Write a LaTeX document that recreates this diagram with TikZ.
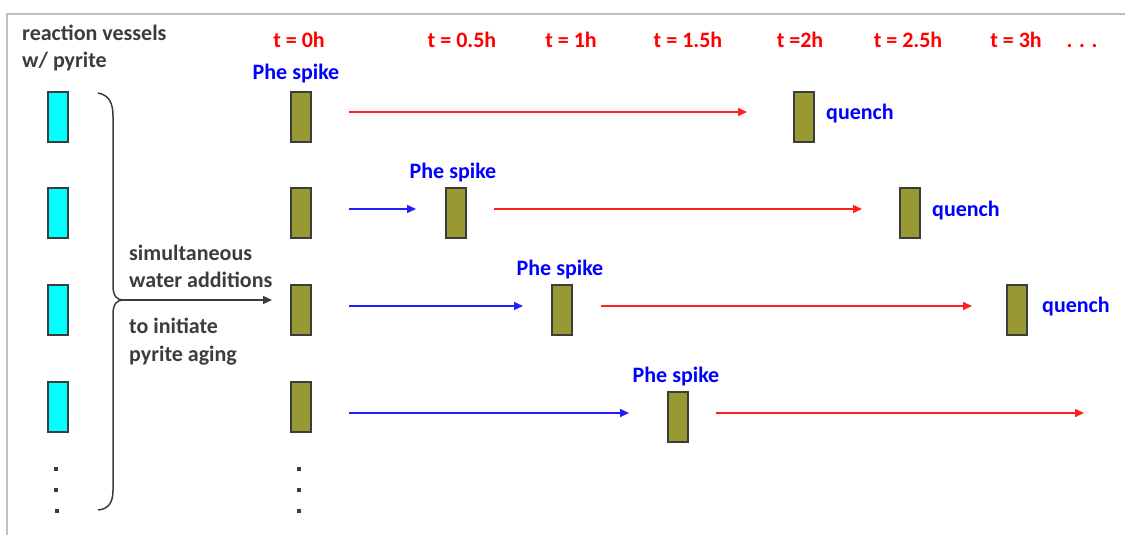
\documentclass[tikz,border=0pt]{standalone}
\usepackage{fontspec}
\setmainfont{Carlito}
\usetikzlibrary{arrows.meta}
\definecolor{olivebox}{RGB}{153,153,51}
\definecolor{vesselcyan}{RGB}{0,255,255}
\definecolor{darktext}{RGB}{60,60,60}
\definecolor{framegray}{RGB}{192,192,192}
\definecolor{arrred}{RGB}{255,32,32}
\definecolor{arrblue}{RGB}{32,32,255}
\definecolor{textred}{RGB}{255,0,0}
\definecolor{textblue}{RGB}{0,0,255}
\tikzset{
  vessel/.style={draw=darktext, line width=1.2pt, fill=vesselcyan, minimum width=20pt, minimum height=50pt, inner sep=0pt},
  sample/.style={draw=darktext, line width=1.2pt, fill=olivebox, minimum width=20pt, minimum height=50pt, inner sep=0pt},
  lbl/.style={inner sep=0pt, font=\fontsize{22}{26}\selectfont\bfseries},
  timelbl/.style={lbl, text=textred, anchor=base},
  spikelbl/.style={lbl, text=textblue, anchor=base},
  quenchlbl/.style={lbl, text=textblue, anchor=base west},
  notelbl/.style={lbl, text=darktext, anchor=base west},
  dot/.style={fill=darktext, minimum size=4pt, inner sep=0pt},
  redarr/.style={draw=arrred, line width=1.5pt, -{Triangle[length=9pt,width=8pt]}},
  bluearr/.style={draw=arrblue, line width=1.5pt, -{Triangle[length=9pt,width=8pt]}},
  addarr/.style={draw=darktext, line width=1.5pt, -{Triangle[length=9pt,width=8pt]}},
}
\begin{document}
\begin{tikzpicture}[x=1pt, y=-1pt]
\useasboundingbox (0,0) rectangle (1125,535);
% outer frame (top and left edges)
\draw[framegray, line width=2pt] (1125,14) -- (7,14) -- (7,535);

% column headings
\node[notelbl] (hdr1) at (22,41) {reaction vessels};
\node[notelbl] (hdr2) at (22,68) {w/ pyrite};
\node[timelbl] (t0)  at (299,48) {t = 0h};
\node[timelbl] (t05) at (462,48) {t = 0.5h};
\node[timelbl] (t1)  at (571,48) {t = 1h};
\node[timelbl] (t15) at (688,48) {t = 1.5h};
\node[timelbl] (t2)  at (800,48) {t =2h};
\node[timelbl] (t25) at (908,48) {t = 2.5h};
\node[timelbl] (t3)  at (1016,48) {t = 3h};
\node[timelbl] (tmore) at (1082,48) {. . .};

% reaction vessels
\node[vessel] (v1) at (58,117) {};
\node[vessel] (v2) at (58,213) {};
\node[vessel] (v3) at (58,310) {};
\node[vessel] (v4) at (58,407) {};
\node[dot] (vd1) at (56,469) {};
\node[dot] (vd2) at (56,490) {};
\node[dot] (vd3) at (57,511) {};

% brace gathering the vessels
\draw[darktext, line width=1.5pt]
  (98,93) .. controls (109,95) and (113,103) .. (113,116) -- (113,286)
  .. controls (113,296) and (117,300) .. (123,300)
  .. controls (117,300) and (113,304) .. (113,314) -- (113,490)
  .. controls (113,502) and (109,509) .. (98,510);
\coordinate (tip) at (123,300);
\node[notelbl] (n1) at (129,260) {simultaneous};
\node[notelbl] (n2) at (129,287) {water additions};
\node[notelbl] (n3) at (129,333) {to initiate};
\node[notelbl] (n4) at (129,361) {pyrite aging};
\coordinate (addend) at (272,300);
\draw[addarr] (tip) -- (addend);

% samples at t = 0h
\node[sample] (s1) at (301,117) {};
\node[sample] (s2) at (301,213) {};
\node[sample] (s3) at (301,310) {};
\node[sample] (s4) at (301,407) {};
\node[dot] (sd1) at (299,469) {};
\node[dot] (sd2) at (299,490) {};
\node[dot] (sd3) at (299,511) {};
\node[spikelbl] (p1) at (296,80) {Phe spike};

% row 1: spike at 0h, quench at 2h
\node[sample] (q1) at (804,117) {};
\node[quenchlbl] (ql1) at (826,119) {quench};
\coordinate (r1a) at (349,112);
\coordinate (r1b) at (747,112);
\draw[redarr] (r1a) -- (r1b);

% row 2: spike at 0.5h, quench at 2.5h
\node[sample] (m2) at (456,213) {};
\node[spikelbl] (p2) at (453,178) {Phe spike};
\node[sample] (q2) at (910,213) {};
\node[quenchlbl] (ql2) at (932,216) {quench};
\coordinate (b2a) at (349,209);
\coordinate (b2b) at (416,209);
\draw[bluearr] (b2a) -- (b2b);
\coordinate (r2a) at (494,209);
\coordinate (r2b) at (862,209);
\draw[redarr] (r2a) -- (r2b);

% row 3: spike at 1h, quench at 3h
\node[sample] (m3) at (562,310) {};
\node[spikelbl] (p3) at (560,275) {Phe spike};
\node[sample] (q3) at (1017,310) {};
\node[quenchlbl] (ql3) at (1042,312) {quench};
\coordinate (b3a) at (349,306);
\coordinate (b3b) at (523,306);
\draw[bluearr] (b3a) -- (b3b);
\coordinate (r3a) at (601,306);
\coordinate (r3b) at (972,306);
\draw[redarr] (r3a) -- (r3b);

% row 4: spike at 1.5h, continuing
\node[sample] (m4) at (678,417) {};
\node[spikelbl] (p4) at (676,382) {Phe spike};
\coordinate (b4a) at (349,413);
\coordinate (b4b) at (629,413);
\draw[bluearr] (b4a) -- (b4b);
\coordinate (r4a) at (716,413);
\coordinate (r4b) at (1084,413);
\draw[redarr] (r4a) -- (r4b);
\end{tikzpicture}
\end{document}
